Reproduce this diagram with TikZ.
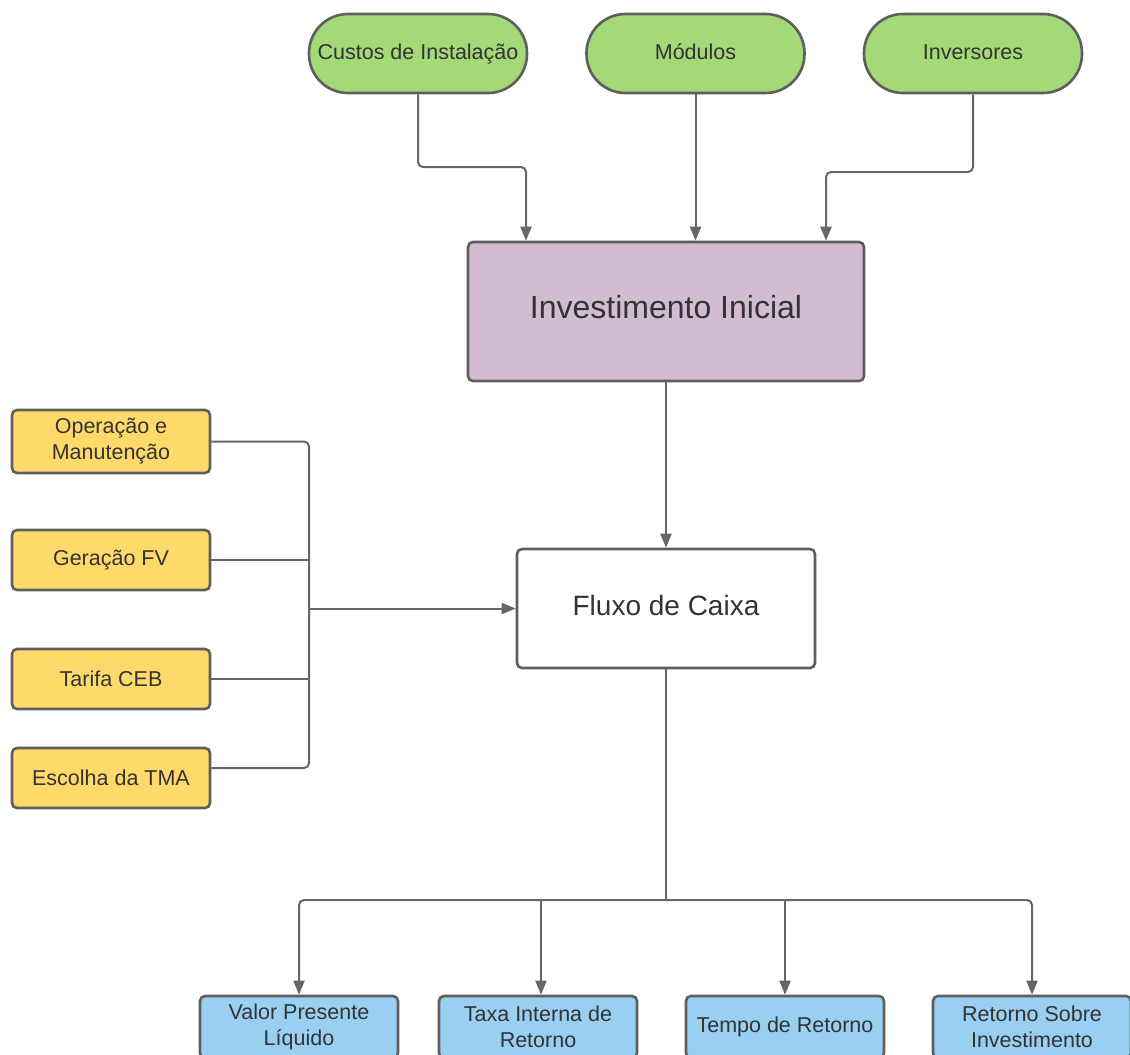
\documentclass[tikz,border=0pt]{standalone}
\usepackage{fontspec}
\setmainfont{Liberation Sans}
\usetikzlibrary{arrows.meta}
\definecolor{cgreen}{HTML}{A3D977}
\definecolor{cpurple}{HTML}{D1BCD2}
\definecolor{cyellow}{HTML}{FFDA6A}
\definecolor{cblue}{HTML}{99D0F2}
\definecolor{cborder}{HTML}{5E5E5E}
\definecolor{cline}{HTML}{666666}
\definecolor{ctext}{HTML}{333333}
\begin{document}
\begin{tikzpicture}[x=1pt,y=-1pt,
  box/.style={draw=cborder, line width=2.6pt, rounded corners=5pt, text=ctext, align=center, inner sep=0pt,
    font=\fontsize{21.5}{26}\selectfont},
  pill/.style={box, fill=cgreen, minimum width=218pt, minimum height=79pt, rounded corners=39pt},
  yel/.style={box, fill=cyellow, minimum width=198pt},
  blu/.style={box, fill=cblue, minimum width=198pt, minimum height=62pt},
  conn/.style={draw=cline, line width=2pt, rounded corners=5pt},
  arr/.style={conn, -{Triangle[length=14pt,width=11pt]}}]
\useasboundingbox (0,0) rectangle (1130,1055);
\fill[white] (0,0) rectangle (1130,1055);

% top inputs
\node[pill] (cus) at (418,53.5) {\raisebox{3pt}{Custos de Instalação}};
\node[pill] (mod) at (695.5,53.5) {\raisebox{3pt}{Módulos}};
\node[pill] (ivr) at (973,53.5) {\raisebox{3pt}{Inversores}};

% main boxes
\node[box, fill=cpurple, minimum width=396pt, minimum height=139pt, font=\fontsize{32}{38}\selectfont] (ini) at (666,311.5) {\raisebox{10pt}{Investimento Inicial}};
\node[box, fill=white, minimum width=298pt, minimum height=119pt, font=\fontsize{28}{34}\selectfont] (flu) at (666,608.5) {\raisebox{6pt}{Fluxo de Caixa}};

% left inputs
\node[yel, minimum height=63pt] (ope) at (111,441.5) {Operação e\\Manutenção};
\node[yel, minimum height=60pt] (ger) at (111,560) {Geração FV};
\node[yel, minimum height=60pt] (tar) at (111,679) {Tarifa CEB};
\node[yel, minimum height=60pt] (esc) at (111,778) {Escolha da TMA};

% outputs
\node[blu] (vpl) at (299,1027) {Valor Presente\\Líquido};
\node[blu] (tir) at (538,1027) {Taxa Interna de\\Retorno};
\node[blu] (tem) at (785,1027) {Tempo de Retorno};
\node[blu] (rsi) at (1032,1027) {Retorno Sobre\\Investimento};

% top connectors
\draw[arr] (cus.south) -- (cus.south |- 0,167) -| ([xshift=-140pt]ini.north);
\draw[arr] (mod.south) -- (mod.south |- ini.north);
\draw[arr] (ivr.south) -- (ivr.south |- 0,172) -| ([xshift=160pt]ini.north);

\draw[arr] (ini.south) -- (flu.north);

% left bus
\coordinate (bus) at (309,608.5);
\draw[conn] (ope.east) -| (bus);
\draw[conn] ([yshift=10pt]esc.east) -| (bus);
\draw[conn] (ger.east) -- (ger.east -| bus);
\draw[conn] (tar.east) -- (tar.east -| bus);
\draw[arr] (bus) -- (bus -| flu.west);

% bottom split
\coordinate (split) at (666,900);
\draw[conn] (flu.south) -- (split);
\draw[arr] (split) -| (vpl.north);
\draw[arr] (split) -| (rsi.north);
\draw[arr] ([xshift=3pt]tir.north |- split) -- ([xshift=3pt]tir.north);
\draw[arr] (tem.north |- split) -- (tem.north);
\end{tikzpicture}
\end{document}
